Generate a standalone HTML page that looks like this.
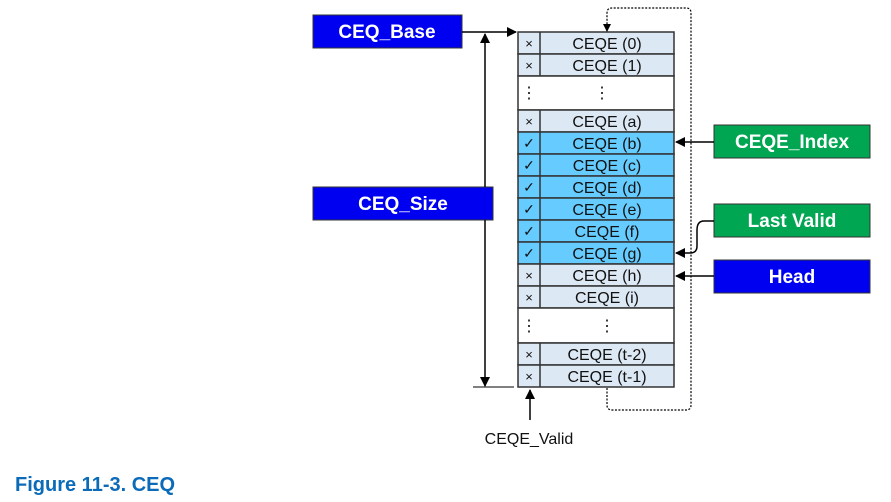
<!DOCTYPE html>
<html><head><style>body{margin:0;background:#fff}svg{display:block}</style></head><body>
<svg width="891" height="502" viewBox="0 0 891 502" xmlns="http://www.w3.org/2000/svg" font-family="Liberation Sans, sans-serif">
<defs><marker id="a" markerWidth="10" markerHeight="10" refX="9" refY="5" orient="auto" markerUnits="userSpaceOnUse"><path d="M0,0 L10,5 L0,10 z" fill="#000"/></marker>
<marker id="s" markerWidth="8" markerHeight="8" refX="7" refY="4" orient="auto" markerUnits="userSpaceOnUse"><path d="M0,0 L8,4 L0,8 z" fill="#000"/></marker></defs>
<g stroke="#333" stroke-width="1.5">
<rect x="518" y="32" width="156" height="22" fill="#dde8f5"/><rect x="518" y="54" width="156" height="22" fill="#dde8f5"/>
<rect x="518" y="76" width="156" height="34" fill="#fff"/>
<rect x="518" y="110" width="156" height="22" fill="#dde8f5"/>
<rect x="518" y="132" width="156" height="22" fill="#66ccff"/><rect x="518" y="154" width="156" height="22" fill="#66ccff"/><rect x="518" y="176" width="156" height="22" fill="#66ccff"/><rect x="518" y="198" width="156" height="22" fill="#66ccff"/><rect x="518" y="220" width="156" height="22" fill="#66ccff"/><rect x="518" y="242" width="156" height="22" fill="#66ccff"/>
<rect x="518" y="264" width="156" height="22" fill="#dde8f5"/><rect x="518" y="286" width="156" height="22" fill="#dde8f5"/>
<rect x="518" y="308" width="156" height="35" fill="#fff"/>
<rect x="518" y="343" width="156" height="22" fill="#dde8f5"/><rect x="518" y="365" width="156" height="22" fill="#dde8f5"/>
<path d="M540 32V76M540 110V308M540 343V387" fill="none"/>
</g>
<g font-size="16" text-anchor="middle" fill="#111">
<text x="607" y="49">CEQE (0)</text><text x="607" y="71">CEQE (1)</text>
<text x="607" y="127">CEQE (a)</text><text x="607" y="149">CEQE (b)</text><text x="607" y="171">CEQE (c)</text><text x="607" y="193">CEQE (d)</text><text x="607" y="215">CEQE (e)</text><text x="607" y="237">CEQE (f)</text><text x="607" y="259">CEQE (g)</text><text x="607" y="281">CEQE (h)</text><text x="607" y="303">CEQE (i)</text>
<text x="607" y="360">CEQE (t-2)</text><text x="607" y="382">CEQE (t-1)</text>
<text x="529" y="48" font-size="13">×</text><text x="529" y="70" font-size="13">×</text><text x="529" y="126" font-size="13">×</text>
<text x="529" y="148" font-size="14">✓</text><text x="529" y="170" font-size="14">✓</text><text x="529" y="192" font-size="14">✓</text><text x="529" y="214" font-size="14">✓</text><text x="529" y="236" font-size="14">✓</text><text x="529" y="258" font-size="14">✓</text>
<text x="529" y="280" font-size="13">×</text><text x="529" y="302" font-size="13">×</text><text x="529" y="359" font-size="13">×</text><text x="529" y="381" font-size="13">×</text>
<text x="529" y="98">⋮</text><text x="602" y="98">⋮</text><text x="529" y="331">⋮</text><text x="607" y="331">⋮</text>
<text x="529" y="444">CEQE_Valid</text>
</g>
<rect x="313" y="15" width="149" height="33" fill="#0000f0" stroke="#333"/><text x="387" y="38" font-size="19" font-weight="bold" fill="#fff" text-anchor="middle">CEQ_Base</text>
<rect x="313" y="187" width="180" height="33" fill="#0000f0" stroke="#333"/><text x="403" y="210" font-size="19" font-weight="bold" fill="#fff" text-anchor="middle">CEQ_Size</text>
<rect x="714" y="125" width="156" height="33" fill="#00a651" stroke="#333"/><text x="792" y="148" font-size="19" font-weight="bold" fill="#fff" text-anchor="middle">CEQE_Index</text>
<rect x="714" y="204" width="156" height="33" fill="#00a651" stroke="#333"/><text x="792" y="227" font-size="19" font-weight="bold" fill="#fff" text-anchor="middle">Last Valid</text>
<rect x="714" y="260" width="156" height="33" fill="#0000f0" stroke="#333"/><text x="792" y="283" font-size="19" font-weight="bold" fill="#fff" text-anchor="middle">Head</text>
<g stroke="#000" stroke-width="1.5" fill="none">
<path d="M462 32H516" marker-end="url(#a)"/>
<path d="M485 187V34" marker-end="url(#a)"/>
<path d="M485 220V386" marker-end="url(#a)"/>
<path d="M473 387H514" stroke-width="1"/>
<path d="M530 420V390" marker-end="url(#a)"/>
<path d="M714 142H676" marker-end="url(#a)"/>
<path d="M714 221H704Q697 221 697 230V246Q697 253 690 253H676" marker-end="url(#a)"/>
<path d="M714 276H676" marker-end="url(#a)"/>
<path d="M607 388V405Q607 410 612 410H686Q691 410 691 405V13Q691 8 686 8H612Q607 8 607 13V31" stroke-dasharray="2,1.5" stroke-width="1.2" marker-end="url(#s)"/>
</g>
<text x="15" y="491" font-size="20" font-weight="bold" fill="#0b6bb8">Figure 11-3. CEQ</text>
</svg>
</body></html>
